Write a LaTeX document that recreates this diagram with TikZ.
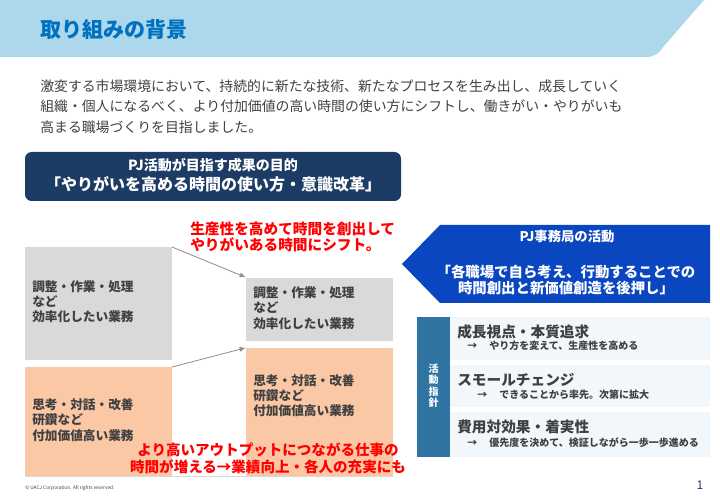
\documentclass[tikz,border=0pt]{standalone}
\usepackage{fontspec}
\setmainfont{Noto Sans CJK JP}
\usetikzlibrary{arrows.meta}
\definecolor{bandblue}{HTML}{ADD8EB}
\definecolor{titleblue}{HTML}{0070C0}
\definecolor{navy}{HTML}{1C3B65}
\definecolor{royal}{HTML}{0A46C0}
\definecolor{steel}{HTML}{2F74A2}
\definecolor{pale}{HTML}{F2F7FC}
\definecolor{boxgray}{HTML}{D9D9D9}
\definecolor{peach}{HTML}{FBC8A6}
\definecolor{txt}{HTML}{404040}
\definecolor{arrowgray}{HTML}{8C8C8C}
\tikzset{
  boxtext/.style={anchor=west, align=left, text=txt, font=\bfseries\fontsize{9.5}{11.4}\selectfont, inner sep=0pt},
  redtext/.style={text=red, font=\bfseries\fontsize{11}{12.2}\selectfont, inner sep=0pt},
  ptitle/.style={anchor=west, text=txt, font=\bfseries\fontsize{11}{13}\selectfont, inner sep=0pt},
  psub/.style={anchor=west, text=txt, font=\bfseries\fontsize{7.5}{9}\selectfont, inner sep=0pt},
  shiftarrow/.style={draw=arrowgray, line width=0.6pt, -{Triangle[length=4pt,width=3.5pt]}},
  bottomred/.style={align=center, inner sep=0pt, font=\bfseries\fontsize{10.9}{12.75}\selectfont},
}
\begin{document}
\begin{tikzpicture}[x=0.75pt,y=-0.75pt]
\useasboundingbox (0,0) rectangle (720,498);
% header band
\fill[bandblue] (0,0) -- (704,0) -- (664,46) .. controls (659,53) and (655,57) .. (646,57) -- (0,57) -- cycle;
\node[anchor=west, text=titleblue, font=\bfseries\fontsize{15.8}{18}\selectfont, inner sep=0pt] (title) at (40,30) {取り組みの背景};
% intro text
\node[anchor=west, align=left, text=txt, font=\fontsize{10.4}{15.4}\selectfont, inner sep=0pt] (intro) at (40,106.5)
 {激変する市場環境において、持続的に新たな技術、新たなプロセスを生み出し、成長していく\\
  組織・個人になるべく、より付加価値の高い時間の使い方にシフトし、働きがい・やりがいも\\
  高まる職場づくりを目指しました。};
% navy box
\fill[navy, rounded corners=5pt] (25,152) rectangle (401,201);
\node[text=white, font=\bfseries\fontsize{10.5}{12}\selectfont, inner sep=0pt] (goal1) at (213,165) {PJ活動が目指す成果の目的};
\node[text=white, font=\bfseries\fontsize{12}{14}\selectfont, inner sep=0pt] (goal2) at (213,184) {「やりがいを高める時間の使い方・意識改革」};
% red top text
\node[redtext, anchor=west, align=left] (redtop) at (190,237) {生産性を高めて時間を創出して\\やりがいある時間にシフト。};
% left boxes
\fill[boxgray] (25,247) rectangle (172,360);
\fill[peach] (25,367) rectangle (172,476);
% right boxes
\fill[boxgray] (246,278) rectangle (393,341);
\fill[peach] (246,348) rectangle (393,476);
\draw[boxgray, line width=1pt] (25,476.5) -- (393,476.5);
\coordinate (lgtr) at (172,247);
\coordinate (rgtl) at (245,277);
\coordinate (lotr) at (172,367);
\coordinate (rotl) at (245,348);
\draw[shiftarrow] (lgtr) -- (rgtl);
\draw[shiftarrow] (lotr) -- (rotl);
\node[boxtext] (lg) at (32,302) {調整・作業・処理\\など\\効率化したい業務};
\node[boxtext] (lo) at (32,420) {思考・対話・改善\\研鑽など\\付加価値高い業務};
\node[boxtext] (rg) at (253,308) {調整・作業・処理\\など\\効率化したい業務};
\node[boxtext] (ro) at (253,395.5) {思考・対話・改善\\研鑽など\\付加価値高い業務};
% red bottom text
\node[bottomred, text=red] (redbot) at (268,458.5) {より高いアウトプットにつながる仕事の\\時間が増える→業績向上・各人の充実にも};
% blue arrow
\fill[royal] (402,264) -- (440,225) -- (710,225) -- (710,303) -- (440,303) -- cycle;
\node[text=white, font=\bfseries\fontsize{10}{12}\selectfont, inner sep=0pt] (office) at (567,236) {PJ事務局の活動};
\node[text=white, align=center, font=\bfseries\fontsize{10.8}{11.3}\selectfont, inner sep=0pt] (office2) at (566,280) {「各職場で自ら考え、行動することでの\\時間創出と新価値創造を後押し」};
% guideline panel
\fill[steel] (417,317) rectangle (450,457);
\fill[pale] (450,317) rectangle (710,360);
\fill[pale] (450,365) rectangle (710,407);
\fill[pale] (450,412) rectangle (710,457);
\node[text=white, align=center, font=\bfseries\fontsize{7.5}{8.6}\selectfont, inner sep=0pt] (vert) at (433.5,385.5) {活\\動\\指\\針};
\node[ptitle] (p1) at (457,332) {成長視点・本質追求};
\node[psub] (s1) at (467,346) {→\hspace{1.2em}やり方を変えて、生産性を高める};
\node[ptitle] (p2) at (457,380) {スモールチェンジ};
\node[psub] (s2) at (477,395) {→\hspace{1.2em}できることから率先。次第に拡大};
\node[ptitle] (p3) at (457,427) {費用対効果・着実性};
\node[psub] (s3) at (467,443) {→\hspace{1.2em}優先度を決めて、検証しながら一歩一歩進める};
% footer
\node[anchor=west, text=txt, font=\fontsize{3.6}{4}\selectfont, inner sep=0pt] (copy) at (25,488.5) {© UACJ Corporation. All rights reserved.};
\node[text=navy, font=\fontsize{9}{10}\selectfont, inner sep=0pt] (page) at (700,485) {1};
\end{tikzpicture}
\end{document}
